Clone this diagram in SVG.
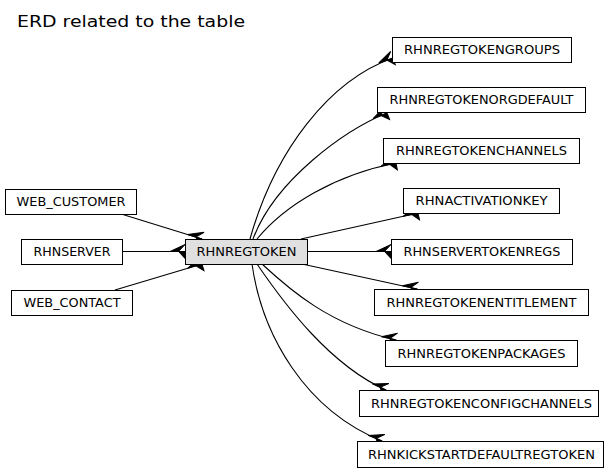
<svg xmlns="http://www.w3.org/2000/svg" width="612" height="473" viewBox="0 0 612 473">
<style>
.box{fill:#ffffff;stroke:#000000;stroke-width:1}
.main{fill:#e0e0e0;stroke:#000000;stroke-width:1}
.lbl{font-family:"DejaVu Sans",sans-serif;font-size:11.5px;fill:#000000;text-anchor:middle}
.edge{fill:none;stroke:#000000;stroke-width:1.1;marker-end:url(#crow)}
.title{font-family:"DejaVu Sans",sans-serif;font-size:16px;fill:#000000}
</style>
<defs>
<marker id="crow" markerUnits="userSpaceOnUse" orient="auto" refX="0" refY="0" markerWidth="20" markerHeight="16" viewBox="-16 -8 20 16" overflow="visible">
<path d="M-15,0 L0,-7 L-6.5,0 L0,0 L0,7 L-6.5,0 Z" fill="#000000" stroke="#000000" stroke-width="1" stroke-linejoin="miter"/>
</marker>
</defs>
<rect width="612" height="473" fill="#ffffff"/>
<text class="title" x="17" y="26.5" textLength="228" lengthAdjust="spacingAndGlyphs">ERD related to the table</text>
<g id="connectors">
<path class="edge" d="M250,239 C275,150 330,80 393,58"/>
<path class="edge" d="M253,239 C275,180 345,130 387,113"/>
<path class="edge" d="M257,239 C285,205 335,175 396,163"/>
<path class="edge" d="M301,239 L418,213"/>
<path class="edge" d="M308,251.5 L391,251.5"/>
<path class="edge" d="M302,264 L417,289"/>
<path class="edge" d="M262,264 C290,290 330,325 396,340"/>
<path class="edge" d="M257,264 C285,305 330,365 386,390"/>
<path class="edge" d="M252,264 C262,335 305,410 382,441"/>
<path class="edge" d="M122,251.5 L185,251.5"/>
<path class="edge" d="M118,213 L202,239"/>
<path class="edge" d="M115,290 L202,264"/>
</g>
<g id="RHNREGTOKEN"><rect class="main" x="185.5" y="239.5" width="122" height="25"/><text class="lbl" x="246.5" y="256" textLength="100" lengthAdjust="spacingAndGlyphs">RHNREGTOKEN</text></g>
<g id="WEB_CUSTOMER"><rect class="box" x="5.5" y="189.5" width="131" height="25"/><text class="lbl" x="71" y="206" textLength="109" lengthAdjust="spacingAndGlyphs">WEB_CUSTOMER</text></g>
<g id="RHNSERVER"><rect class="box" x="21.5" y="239.5" width="101" height="25"/><text class="lbl" x="72" y="256" textLength="77" lengthAdjust="spacingAndGlyphs">RHNSERVER</text></g>
<g id="WEB_CONTACT"><rect class="box" x="11.5" y="290.5" width="121" height="25"/><text class="lbl" x="72" y="307" textLength="97" lengthAdjust="spacingAndGlyphs">WEB_CONTACT</text></g>
<g id="RHNREGTOKENGROUPS"><rect class="box" x="392.5" y="37.5" width="179" height="25"/><text class="lbl" x="482" y="54" textLength="156" lengthAdjust="spacingAndGlyphs">RHNREGTOKENGROUPS</text></g>
<g id="RHNREGTOKENORGDEFAULT"><rect class="box" x="377.5" y="87.5" width="208" height="25"/><text class="lbl" x="481.5" y="104" textLength="184" lengthAdjust="spacingAndGlyphs">RHNREGTOKENORGDEFAULT</text></g>
<g id="RHNREGTOKENCHANNELS"><rect class="box" x="383.5" y="138.5" width="196" height="25"/><text class="lbl" x="481.5" y="155" textLength="171" lengthAdjust="spacingAndGlyphs">RHNREGTOKENCHANNELS</text></g>
<g id="RHNACTIVATIONKEY"><rect class="box" x="403.5" y="188.5" width="156" height="25"/><text class="lbl" x="481.5" y="205" textLength="132" lengthAdjust="spacingAndGlyphs">RHNACTIVATIONKEY</text></g>
<g id="RHNSERVERTOKENREGS"><rect class="box" x="391.5" y="239.5" width="181" height="25"/><text class="lbl" x="482" y="256" textLength="157" lengthAdjust="spacingAndGlyphs">RHNSERVERTOKENREGS</text></g>
<g id="RHNREGTOKENENTITLEMENT"><rect class="box" x="374.5" y="289.5" width="214" height="26"/><text class="lbl" x="481.5" y="306.5" textLength="190" lengthAdjust="spacingAndGlyphs">RHNREGTOKENENTITLEMENT</text></g>
<g id="RHNREGTOKENPACKAGES"><rect class="box" x="385.5" y="340.5" width="192" height="26"/><text class="lbl" x="481.5" y="357.5" textLength="168" lengthAdjust="spacingAndGlyphs">RHNREGTOKENPACKAGES</text></g>
<g id="RHNREGTOKENCONFIGCHANNELS"><rect class="box" x="359.5" y="390.5" width="239" height="26"/><text class="lbl" x="481.5" y="407.5" textLength="221" lengthAdjust="spacingAndGlyphs">RHNREGTOKENCONFIGCHANNELS</text></g>
<g id="RHNKICKSTARTDEFAULTREGTOKEN"><rect class="box" x="357.5" y="441.5" width="246" height="26"/><text class="lbl" x="481.5" y="458.5" textLength="227" lengthAdjust="spacingAndGlyphs">RHNKICKSTARTDEFAULTREGTOKEN</text></g>
</svg>
